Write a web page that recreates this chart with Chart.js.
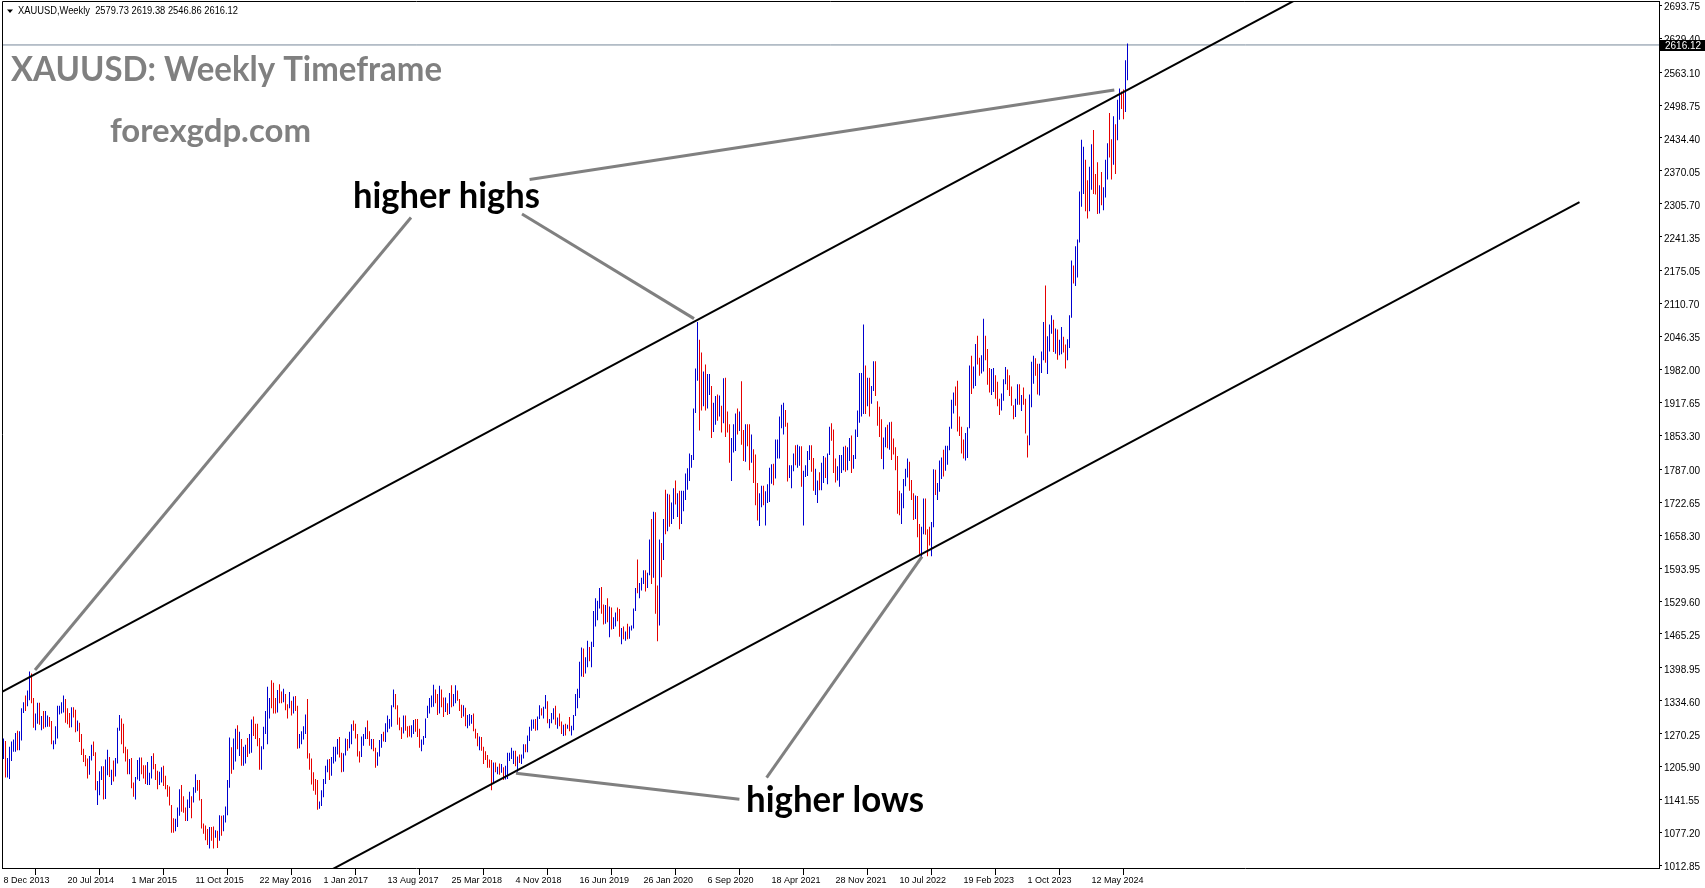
<!DOCTYPE html>
<html>
<head>
<meta charset="utf-8">
<title>XAUUSD Weekly</title>
<script src="https://cdn.jsdelivr.net/npm/chart.js@4.4.1/dist/chart.umd.min.js"></script>
<style>
  html, body { margin: 0; padding: 0; background: #fff; overflow: hidden; }
  #chart { display: block; }
</style>
</head>
<body>
<canvas id="chart" width="1705" height="888"></canvas>
<script>
// weekly bars, index 0 = week of 8 Dec 2013, one row = 10 weeks
const highs = [
  1261,1256,1223,1245,1255,1259,1272,1276,1275,1320,
  1332,1345,1355,1392,1388,1340,1310,1331,1331,1305,
  1315,1315,1306,1303,1295,1257,1285,1325,1325,1332,
  1345,1338,1320,1311,1322,1322,1317,1296,1292,1270,
  1241,1229,1222,1227,1249,1255,1234,1178,1197,1207,
  1207,1220,1239,1225,1200,1218,1223,1282,1307,1300,
  1290,1245,1240,1221,1223,1175,1186,1219,1224,1224,
  1209,1209,1215,1194,1227,1232,1211,1198,1196,1205,
  1208,1188,1170,1167,1131,1105,1104,1126,1162,1170,
  1148,1126,1142,1157,1148,1166,1191,1180,1180,1143,
  1095,1091,1084,1088,1088,1089,1082,1081,1111,1110,
  1111,1128,1180,1263,1244,1261,1280,1287,1274,1260,
  1245,1249,1262,1270,1298,1304,1290,1290,1262,1246,
  1284,1315,1362,1340,1375,1370,1340,1356,1367,1353,
  1358,1348,1328,1352,1335,1343,1344,1325,1270,1275,
  1285,1308,1338,1232,1222,1195,1182,1180,1138,1160,
  1182,1208,1220,1221,1225,1245,1245,1260,1264,1233,
  1232,1261,1260,1274,1289,1296,1290,1270,1236,1265,
  1270,1283,1296,1275,1260,1260,1243,1234,1258,1270,
  1274,1291,1306,1299,1326,1357,1348,1326,1302,1283,
  1306,1306,1285,1286,1287,1297,1299,1299,1280,1259,
  1266,1300,1325,1340,1345,1366,1357,1348,1364,1357,
  1341,1341,1330,1350,1365,1348,1365,1355,1338,1327,
  1326,1321,1307,1309,1307,1310,1280,1272,1265,1264,
  1245,1236,1229,1220,1219,1214,1214,1206,1212,1211,
  1205,1208,1233,1233,1243,1237,1237,1226,1230,1230,
  1250,1250,1267,1284,1298,1298,1299,1304,1326,1320,
  1323,1346,1334,1299,1311,1320,1325,1302,1310,1294,
  1288,1290,1288,1303,1286,1307,1348,1358,1411,1439,
  1437,1420,1452,1440,1450,1510,1535,1530,1555,1557,
  1523,1522,1535,1519,1517,1498,1507,1517,1514,1477,
  1480,1470,1485,1480,1482,1515,1555,1611,1565,1575,
  1590,1590,1585,1650,1690,1704,1703,1560,1650,1643,
  1690,1747,1739,1738,1722,1750,1765,1740,1745,1745,
  1745,1779,1789,1818,1815,1906,1984,2075,2040,2015,
  1978,1992,1973,1973,1950,1917,1930,1933,1931,1911,
  1965,1966,1900,1875,1848,1875,1896,1906,1900,1959,
  1864,1875,1875,1875,1855,1826,1816,1760,1740,1755,
  1755,1744,1758,1790,1797,1798,1845,1845,1890,1913,
  1917,1903,1878,1795,1795,1818,1834,1835,1832,1832,
  1784,1795,1823,1834,1834,1809,1788,1765,1781,1800,
  1813,1810,1818,1870,1877,1865,1808,1793,1815,1815,
  1831,1833,1830,1848,1853,1815,1865,1902,1975,1975,
  2070,1990,1966,1966,1950,1998,1998,1920,1909,1885,
  1849,1869,1874,1879,1880,1847,1830,1813,1745,1740,
  1768,1788,1808,1802,1766,1740,1736,1735,1680,1675,
  1730,1730,1670,1675,1684,1787,1786,1760,1804,1810,
  1825,1833,1833,1870,1923,1937,1949,1960,1890,1870,
  1845,1858,1869,1990,2009,1988,2032,2048,2005,2010,
  2081,2048,2022,1985,1983,1985,1971,1958,1925,1935,
  1963,1987,1982,1971,1949,1912,1925,1953,1953,1932,
  1947,1925,1853,1933,1997,2009,2004,1993,1993,2017,
  2075,2146,2047,2070,2088,2079,2062,2060,2040,2065,
  2046,2031,2041,2088,2195,2185,2223,2236,2330,2431,
  2417,2392,2352,2378,2422,2450,2364,2387,2342,2368,
  2338,2392,2424,2483,2432,2477,2461,2509,2531,2525,
  2529,2586,2619
];
const lows = [
  1221,1185,1185,1182,1217,1235,1235,1238,1238,1257,
  1311,1315,1324,1336,1330,1282,1277,1290,1288,1277,
  1280,1283,1284,1284,1250,1240,1250,1261,1308,1310,
  1312,1292,1289,1282,1283,1302,1273,1275,1254,1229,
  1215,1207,1183,1190,1218,1227,1160,1131,1150,1180,
  1142,1143,1189,1186,1170,1177,1187,1212,1276,1250,
  1232,1216,1191,1191,1164,1147,1142,1181,1178,1191,
  1183,1172,1170,1170,1183,1201,1180,1162,1170,1175,
  1168,1162,1147,1130,1077,1077,1080,1088,1110,1118,
  1116,1100,1100,1125,1105,1136,1155,1159,1140,1085,
  1075,1062,1053,1046,1061,1046,1067,1047,1061,1071,
  1080,1097,1111,1165,1192,1200,1216,1240,1227,1208,
  1208,1212,1225,1231,1233,1266,1260,1246,1200,1200,
  1240,1270,1250,1300,1320,1310,1310,1312,1330,1330,
  1332,1316,1300,1320,1306,1310,1315,1241,1242,1250,
  1259,1270,1222,1200,1171,1159,1151,1122,1124,1129,
  1146,1172,1195,1180,1188,1212,1216,1230,1224,1195,
  1196,1228,1237,1242,1250,1276,1261,1226,1214,1225,
  1247,1260,1260,1247,1240,1236,1204,1208,1226,1243,
  1255,1254,1273,1280,1284,1322,1318,1288,1277,1260,
  1271,1276,1263,1265,1263,1270,1274,1264,1243,1236,
  1249,1262,1301,1310,1322,1323,1330,1307,1310,1322,
  1303,1313,1307,1309,1322,1324,1330,1335,1315,1301,
  1304,1285,1281,1286,1290,1275,1261,1246,1238,1237,
  1211,1219,1204,1204,1160,1173,1195,1191,1190,1194,
  1180,1181,1182,1217,1221,1211,1207,1196,1213,1211,
  1222,1234,1234,1256,1276,1280,1276,1277,1299,1306,
  1300,1319,1291,1281,1291,1298,1288,1280,1285,1270,
  1266,1267,1280,1275,1267,1277,1305,1320,1340,1382,
  1381,1388,1400,1412,1400,1440,1480,1492,1515,1505,
  1484,1485,1488,1459,1474,1475,1480,1490,1460,1445,
  1455,1452,1455,1456,1472,1476,1510,1545,1535,1550,
  1563,1548,1555,1580,1563,1575,1505,1451,1482,1576,
  1610,1660,1666,1675,1680,1690,1718,1694,1670,1680,
  1705,1727,1747,1764,1790,1805,1897,1960,1863,1902,
  1910,1902,1906,1932,1848,1860,1874,1882,1890,1859,
  1877,1850,1859,1800,1764,1820,1823,1855,1862,1835,
  1803,1802,1832,1785,1800,1760,1717,1687,1676,1713,
  1717,1677,1721,1723,1759,1756,1769,1808,1808,1867,
  1855,1870,1763,1770,1750,1783,1795,1790,1794,1753,
  1677,1772,1774,1805,1782,1745,1737,1721,1746,1746,
  1760,1770,1758,1815,1843,1780,1761,1765,1753,1780,
  1785,1782,1785,1803,1780,1788,1807,1850,1878,1890,
  1895,1895,1910,1890,1915,1940,1930,1872,1850,1807,
  1787,1830,1828,1825,1805,1816,1785,1700,1697,1680,
  1711,1754,1771,1745,1727,1688,1690,1654,1621,1615,
  1660,1659,1617,1638,1617,1674,1737,1727,1743,1768,
  1773,1784,1796,1824,1866,1896,1911,1861,1852,1818,
  1808,1804,1809,1867,1934,1945,1950,1992,1970,1974,
  1978,2000,1952,1937,1932,1938,1925,1910,1893,1902,
  1921,1953,1942,1930,1911,1885,1889,1913,1913,1901,
  1913,1857,1810,1834,1908,1954,1970,1933,1931,1975,
  2000,1995,1973,2017,2052,2016,2013,2001,2010,2012,
  2015,1984,2000,2024,2083,2150,2145,2162,2230,2300,
  2325,2291,2277,2291,2333,2325,2324,2286,2287,2303,
  2293,2318,2353,2396,2353,2382,2364,2430,2470,2491,
  2471,2485,2547
];
// u = bull bar (blue), d = bear bar (red)
const dirs = `
  u d u u u u u d u u   u d u u d d u u d u   d u u d d u u u u u
  u d d d u d d u d d   d d d u u d d u u u   d u u d u d u u u d
  d d d u d d u u u d   d d u u u d d d u u   d d d d d d u u u d
  d d u u d u u d d d   d d d u d d u d u d   u u u u d u u d u d
  u u d u u d d d d u   u u u u d d d u d d   u d d u d u d d u u
  u u d d d d d d u u   u u u d u u u u d d   u u d u u d d d d u
  u u d d u d d u u u   d u u u u u d d d d   u d d d u u d d d u
  u u u u u u d d u d   d u d u d u u d d d   u d u u u d d d u d
  d d d d d u d u d u   d u u u u u d u d u   u d u u u u d u u d
  u u d u u u d u d d   u d u d u u u u u u   d u u d u u u u u d
  d u d u d u u d d u   d u d u u u u d u u   u d u u d u d d u d
  u d u d u u d u d u   u u u u u u u u d d   u d u u d u u d u d
  u d d d u u u d u d   d u d d u d d d u u   d u u u u d u u u u
  u d d u u u d u u d   u u u u d d u u d u   u d u u d d d u u u
  u d u u d u u u u u   u d u d u u d d d d   u u d u d d d d d u
  u u u d d d u d d u   u d d d u u d u u u   d u u u u u d d d d
  d u u u d u u d d u   u d d d u u d d d u   u u d d d d u u d u
  d d d u u u d d u u   u d u u u d u d u u   d d u u u d u u u u
  u d d u u d d d u d   u u u d d u d u u d   d u u
`.replace(/\s/g, '');

const dateLabels = ['8 Dec 2013', '20 Jul 2014', '1 Mar 2015', '11 Oct 2015', '22 May 2016', '1 Jan 2017',
  '13 Aug 2017', '25 Mar 2018', '4 Nov 2018', '16 Jun 2019', '26 Jan 2020', '6 Sep 2020', '18 Apr 2021',
  '28 Nov 2021', '10 Jul 2022', '19 Feb 2023', '1 Oct 2023', '12 May 2024'];
const dateTicks = [0, 32, 64, 96, 128, 160, 192, 224, 256, 288, 320, 352, 384, 416, 448, 480, 512, 544];
const priceTicks = [2693.75, 2629.40, 2563.10, 2498.75, 2434.40, 2370.05, 2305.70, 2241.35, 2175.05, 2110.70,
  2046.35, 1982.00, 1917.65, 1853.30, 1787.00, 1722.65, 1658.30, 1593.95, 1529.60, 1465.25, 1398.95,
  1334.60, 1270.25, 1205.90, 1141.55, 1077.20, 1012.85];
const lastBar = [2579.73, 2619.38, 2546.86, 2616.12];

// trend lines, [bar index, price]
const upperChannel = [[-2, 1349.6], [660, 2733.2]];
const lowerChannel = [[160, 996.3], [788, 2308.8]];
const pointerLines = [
  [[15.75, 1394.9], [203.75, 2279.0]],
  [[259.25, 2285.8], [345.25, 2081.4]],
  [[263.05, 2353.4], [555.4, 2528.1]],
  [[459.25, 1616.2], [381.55, 1184.8]],
  [[256.25, 1193.0], [367.95, 1142.4]]
];

const BULL = '#0000d0';
const BEAR = '#e60000';
const AXIS_FAMILY = '"Liberation Sans", Arial, sans-serif';

const seg = pts => pts.map(([x, y]) => ({ x, y }));
const lineBase = { type: 'line', pointRadius: 0, fill: false, tension: 0, clip: 0 };

const barPoints = highs.map((h, i) => ({ x: i, y: [lows[i], h] }));
const barColors = highs.map((h, i) => dirs[i] === 'd' ? BEAR : BULL);

const decor = {
  id: 'decor',
  beforeDraw(chart) {
    const ctx = chart.ctx;
    ctx.save();
    ctx.fillStyle = '#fff';
    ctx.fillRect(0, 0, chart.width, chart.height);
    ctx.restore();
  },
  afterDraw(chart) {
    const { ctx, chartArea: a, scales } = chart;
    ctx.save();

    // left and top edge of the plot frame
    ctx.strokeStyle = '#000';
    ctx.lineWidth = 1;
    ctx.beginPath();
    ctx.moveTo(a.left + 0.5, a.bottom);
    ctx.lineTo(a.left + 0.5, a.top + 0.5);
    ctx.lineTo(a.right, a.top + 0.5);
    ctx.stroke();

    // header line
    ctx.fillStyle = '#000';
    ctx.beginPath();
    ctx.moveTo(7, 9.5); ctx.lineTo(13, 9.5); ctx.lineTo(10, 13);
    ctx.closePath();
    ctx.fill();
    ctx.font = '10px ' + AXIS_FAMILY;
    ctx.textBaseline = 'alphabetic';
    ctx.fillText('XAUUSD,Weekly  ' + lastBar.map(v => v.toFixed(2)).join(' '), 18, 14, 220);

    // current price tag
    const py = Math.round(scales.y.getPixelForValue(lastBar[3]));
    ctx.fillStyle = '#000';
    ctx.fillRect(a.right + 1, py - 5, chart.width - a.right - 1, 11);
    ctx.fillStyle = '#fff';
    ctx.textBaseline = 'middle';
    ctx.fillText(lastBar[3].toFixed(2), a.right + 6, py + 1);

    // captions
    ctx.textBaseline = 'alphabetic';
    ctx.fillStyle = '#808080';
    ctx.font = 'bold 34px Lato, "Open Sans", sans-serif';
    ctx.fillText('XAUUSD: Weekly Timeframe', 11, 81, 431);
    ctx.font = 'bold 33px Lato, "Open Sans", sans-serif';
    ctx.fillText('forexgdp.com', 110, 142, 201);
    ctx.fillStyle = '#000';
    ctx.font = 'bold 36px Lato, "Open Sans", sans-serif';
    ctx.fillText('higher highs', 353, 208, 187);
    ctx.fillText('higher lows', 746, 812, 178);

    ctx.restore();
  }
};

new Chart(document.getElementById('chart'), {
  data: {
    datasets: [
      ...pointerLines.map(p => ({ ...lineBase, data: seg(p), borderColor: '#808080', borderWidth: 3, order: 0 })),
      { ...lineBase, data: seg(upperChannel), borderColor: '#000', borderWidth: 2, order: 1 },
      { ...lineBase, data: seg(lowerChannel), borderColor: '#000', borderWidth: 2, order: 1 },
      { type: 'bar', data: barPoints, backgroundColor: barColors, borderWidth: 0, barThickness: 1,
        inflateAmount: 0, order: 2 },
      { ...lineBase, data: [{ x: -1, y: lastBar[3] }, { x: 830, y: lastBar[3] }], borderColor: '#778899', borderWidth: 1, order: 3 }
    ]
  },
  options: {
    responsive: false,
    animation: false,
    devicePixelRatio: 1,
    layout: { padding: { left: 2, top: 1, right: 0, bottom: 0 } },
    plugins: { legend: { display: false }, tooltip: { enabled: false }, title: { display: false } },
    events: [],
    scales: {
      x: {
        type: 'linear',
        min: -0.75,
        max: 827.75,
        offset: false,
        afterBuildTicks: s => { s.ticks = dateTicks.map(v => ({ value: v })); },
        afterFit: s => { s.height = 20; s.paddingLeft = 0; s.paddingRight = 0; },
        grid: { drawOnChartArea: false, tickLength: 7, color: '#000', lineWidth: 1 },
        border: { display: true, color: '#000', width: 1 },
        ticks: {
          autoSkip: false, maxRotation: 0, align: 'start', padding: 0, labelOffset: 0,
          color: '#000', font: { family: AXIS_FAMILY, size: 9 },
          callback: v => dateLabels[dateTicks.indexOf(v)] || ''
        }
      },
      y: {
        type: 'linear',
        position: 'right',
        min: 1008,
        max: 2702,
        afterBuildTicks: s => { s.ticks = priceTicks.map(v => ({ value: v })); },
        afterFit: s => { s.width = 46; s.paddingTop = 0; s.paddingBottom = 0; },
        grid: { drawOnChartArea: false, tickLength: 3, color: '#000', lineWidth: 1 },
        border: { display: true, color: '#000', width: 1 },
        ticks: {
          autoSkip: false, padding: 2, labelOffset: 2, color: '#000',
          font: { family: AXIS_FAMILY, size: 10 },
          callback: v => v.toFixed(2)
        }
      }
    }
  },
  plugins: [decor]
});
</script>
</body>
</html>
